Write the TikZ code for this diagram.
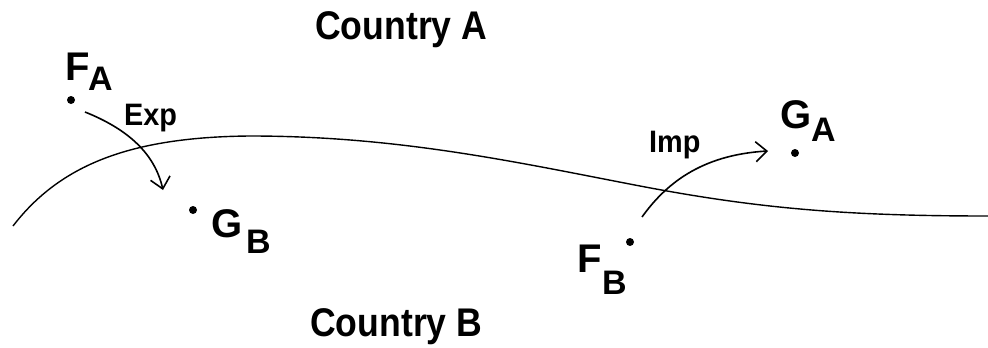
\documentclass[tikz,border=0pt]{standalone}
\usepackage{fontspec}
\setmainfont{Liberation Sans}
\usetikzlibrary{arrows.meta}
\begin{document}
\begin{tikzpicture}[x=1pt,y=-1pt,
  lbl/.style={inner sep=0pt,anchor=base west,font=\bfseries\fontsize{40}{40}\selectfont},
  sublbl/.style={inner sep=0pt,anchor=base west,font=\bfseries\fontsize{34}{34}\selectfont},
  small/.style={inner sep=0pt,anchor=base west,font=\bfseries\fontsize{31}{31}\selectfont},
  pt/.style={circle,fill=black,inner sep=0pt,minimum size=8pt},
  border/.style={line width=1.4pt},
  flow/.style={line width=1.6pt,-{Straight Barb[length=11pt,width=20pt,line width=1.6pt]}}]
\useasboundingbox (0,0) rectangle (988,348);
% countries
\node[lbl] (ca) at (315,39) {\scalebox{0.89}[1]{Country A}};
\node[lbl] (cb) at (310,336) {\scalebox{0.89}[1]{Country B}};
% border
\draw[border] (13,226) .. controls (60,165) and (130,137) .. (250,136)
  .. controls (400,136) and (520,163) .. (640,186)
  .. controls (760,209) and (850,216) .. (988,216);
% points
\node[pt] (fa) at (71,100) {};
\node[pt] (gb) at (193,210) {};
\node[pt] (fb) at (630,242) {};
\node[pt] (ga) at (795,153) {};
% point labels
\node[lbl] (faF) at (65,80) {F};
\node[sublbl] (faA) at (88,90) {A};
\node[lbl] (gbG) at (211,237) {G};
\node[sublbl] (gbB) at (246,253) {B};
\node[lbl] (fbF) at (577,272) {F};
\node[sublbl] (fbB) at (602,294) {B};
\node[lbl] (gaG) at (780,128) {G};
\node[sublbl] (gaA) at (811,141) {A};
% flow labels
\node[small] (exp) at (124,125) {\scalebox{0.93}[1]{Exp}};
\node[small] (imp) at (649,152) {\scalebox{0.93}[1]{Imp}};
% arrows
\coordinate (e1) at (85,112);
\coordinate (e2) at (163,190);
\coordinate (i1) at (642,217);
\coordinate (i2) at (768,151);
\draw[flow] (e1) .. controls (130,130) and (155,155) .. (e2);
\draw[flow] (i1) .. controls (665,185) and (700,155) .. (i2);
\end{tikzpicture}
\end{document}
